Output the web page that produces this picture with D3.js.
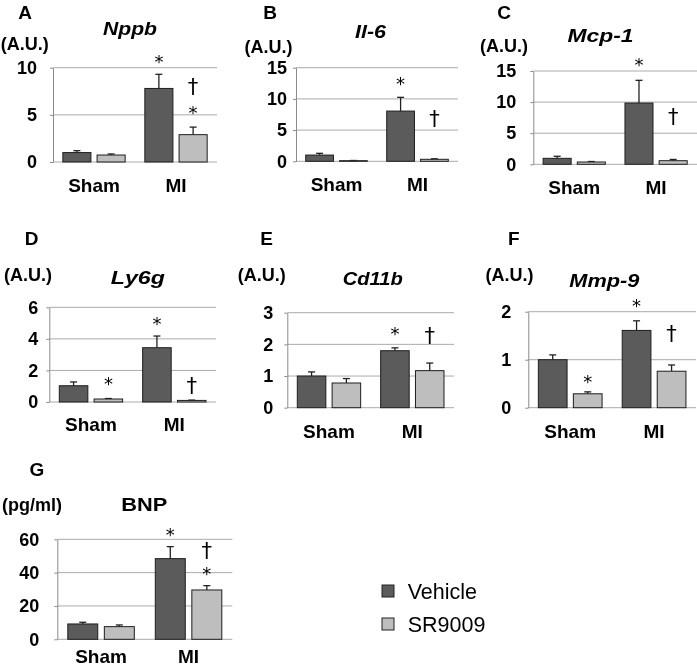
<!DOCTYPE html>
<html><head><meta charset="utf-8">
<script src="https://cdn.jsdelivr.net/npm/d3@7"></script>
<style>
body{margin:0;background:#fff}
svg{display:block;transform:translateZ(0)}
text{font-family:"Liberation Sans",Arial,sans-serif;fill:#000}
</style>
</head><body>
<svg id="chart" width="697" height="669"></svg>
<script>
// ---------- DATA ----------
const groups = ["Sham", "MI"];
const seriesNames = ["Vehicle", "SR9009"];

const nppbVehicle = [1.0, 7.8],  nppbVehicleErr = [0.2, 1.5];
const nppbSR = [0.74, 2.9],      nppbSRErr = [0.11, 0.8];
const nppbTicks = [0, 5, 10];
const nppbSig = [["MI", "Vehicle", "*"], ["MI", "SR9009", "*"], ["MI", "SR9009", "†"]];

const il6Vehicle = [1.0, 8.05],  il6VehicleErr = [0.28, 2.2];
const il6SR = [0.1, 0.32],       il6SRErr = [0.03, 0.08];
const il6Ticks = [0, 5, 10, 15];
const il6Sig = [["MI", "Vehicle", "*"], ["MI", "SR9009", "†"]];

const mcp1Vehicle = [0.96, 9.85], mcp1VehicleErr = [0.33, 3.65];
const mcp1SR = [0.37, 0.58],      mcp1SRErr = [0.08, 0.2];
const mcp1Ticks = [0, 5, 10, 15];
const mcp1Sig = [["MI", "Vehicle", "*"], ["MI", "SR9009", "†"]];

const ly6gVehicle = [1.03, 3.44], ly6gVehicleErr = [0.24, 0.74];
const ly6gSR = [0.19, 0.1],       ly6gSRErr = [0.03, 0.02];
const ly6gTicks = [0, 2, 4, 6];
const ly6gSig = [["Sham", "SR9009", "*"], ["MI", "Vehicle", "*"], ["MI", "SR9009", "†"]];

const cd11bVehicle = [1.0, 1.8],  cd11bVehicleErr = [0.13, 0.09];
const cd11bSR = [0.78, 1.17],     cd11bSRErr = [0.14, 0.24];
const cd11bTicks = [0, 1, 2, 3];
const cd11bSig = [["MI", "Vehicle", "*"], ["MI", "SR9009", "†"]];

const mmp9Vehicle = [1.0, 1.61],  mmp9VehicleErr = [0.1, 0.2];
const mmp9SR = [0.29, 0.76],      mmp9SRErr = [0.04, 0.13];
const mmp9Ticks = [0, 1, 2];
const mmp9Sig = [["Sham", "SR9009", "*"], ["MI", "Vehicle", "*"], ["MI", "SR9009", "†"]];

const bnpVehicle = [9.2, 48.4],   bnpVehicleErr = [1.0, 7.2];
const bnpSR = [7.6, 29.6],        bnpSRErr = [1.0, 2.6];
const bnpTicks = [0, 20, 40, 60];
const bnpSig = [["MI", "Vehicle", "*"], ["MI", "SR9009", "*"], ["MI", "SR9009", "†"]];

const panels = [
  {key: "A", title: "Nppb",  italic: true,  unit: "(A.U.)",  veh: nppbVehicle,  vehErr: nppbVehicleErr,  sr: nppbSR,  srErr: nppbSRErr,  ticks: nppbTicks,  sig: nppbSig},
  {key: "B", title: "Il-6",  italic: true,  unit: "(A.U.)",  veh: il6Vehicle,   vehErr: il6VehicleErr,   sr: il6SR,   srErr: il6SRErr,   ticks: il6Ticks,   sig: il6Sig},
  {key: "C", title: "Mcp-1", italic: true,  unit: "(A.U.)",  veh: mcp1Vehicle,  vehErr: mcp1VehicleErr,  sr: mcp1SR,  srErr: mcp1SRErr,  ticks: mcp1Ticks,  sig: mcp1Sig},
  {key: "D", title: "Ly6g",  italic: true,  unit: "(A.U.)",  veh: ly6gVehicle,  vehErr: ly6gVehicleErr,  sr: ly6gSR,  srErr: ly6gSRErr,  ticks: ly6gTicks,  sig: ly6gSig},
  {key: "E", title: "Cd11b", italic: true,  unit: "(A.U.)",  veh: cd11bVehicle, vehErr: cd11bVehicleErr, sr: cd11bSR, srErr: cd11bSRErr, ticks: cd11bTicks, sig: cd11bSig},
  {key: "F", title: "Mmp-9", italic: true,  unit: "(A.U.)",  veh: mmp9Vehicle,  vehErr: mmp9VehicleErr,  sr: mmp9SR,  srErr: mmp9SRErr,  ticks: mmp9Ticks,  sig: mmp9Sig},
  {key: "G", title: "BNP",   italic: false, unit: "(pg/ml)", veh: bnpVehicle,   vehErr: bnpVehicleErr,   sr: bnpSR,   srErr: bnpSRErr,   ticks: bnpTicks,   sig: bnpSig}
];

// ---------- LAYOUT ----------
const layout = {
  A: {left: 53,    right: 217, top: 67.7,  bottom: 162,   gap: 16, letter: [25, 19],     title: [130, 35, 54],     unit: [24.7, 49.5], cat: 191.7, sigOff: [16.6, 18, 39]},
  B: {left: 296,   right: 458, top: 67.7,  bottom: 161.3, gap: 9,  letter: [270, 19],    title: [370.5, 38, 31],   unit: [268.5, 53],  cat: 191,   sigOff: [17.3, 38.8]},
  C: {left: 533.3, right: 697, top: 71,    bottom: 164.3, gap: 17, letter: [504, 19],    title: [600.5, 41.7, 66], unit: [504, 52],    cat: 194,   sigOff: [19.3, 41.5]},
  D: {left: 49.3,  right: 216, top: 307.3, bottom: 402,   gap: 11, letter: [31.7, 245],  title: [137.8, 283.5, 54], unit: [28, 281],   cat: 431,   sigOff: [18.5, 16, 13.3]},
  E: {left: 287.3, right: 454, top: 312.7, bottom: 407.7, gap: 14, letter: [266.7, 245], title: [372.8, 284.5, 60], unit: [261.7, 281], cat: 437.7, sigOff: [17.7, 26]},
  F: {left: 528.3, right: 696, top: 311.7, bottom: 407.7, gap: 17, letter: [513.7, 245], title: [604.3, 287, 70], unit: [509.5, 281], cat: 437.7, sigOff: [13.7, 19, 30]},
  G: {left: 57.3,  right: 232.3, top: 539.3, bottom: 639.3, gap: 18, letter: [37, 476], title: [144.2, 510.5, 46], unit: [32, 511],    cat: 663.3, sigOff: [15.7, 15.7, 34]}
};

const color = d3.scaleOrdinal().domain(seriesNames).range(["#5b5b5b", "#bebebe"]);
const gridColor = "#ababab";
const axisColor = "#8a8a8a";

const svg = d3.select("#chart");

panels.forEach(p => {
  const L = layout[p.key];
  const g = svg.append("g");
  const y = d3.scaleLinear().domain([0, d3.max(p.ticks)]).range([L.bottom, L.top]);
  const x0 = d3.scaleBand().domain(groups).range([L.left, L.right]);
  const bw = x0.bandwidth();
  const x1 = d3.scaleBand().domain(seriesNames).range([bw * 0.12, bw * 0.88]).paddingInner(0.18);

  // gridlines
  g.append("g").selectAll("line").data(p.ticks).join("line")
    .attr("x1", L.left).attr("x2", L.right)
    .attr("y1", d => y(d)).attr("y2", d => y(d))
    .attr("stroke", gridColor).attr("stroke-width", 1);

  // y axis
  const ax = g.append("g").attr("transform", `translate(${L.left},0)`)
    .call(d3.axisLeft(y).tickValues(p.ticks).tickFormat(d3.format("d"))
      .tickSize(3).tickSizeOuter(0).tickPadding(L.gap - 3));
  ax.select(".domain").attr("stroke", axisColor);
  ax.selectAll(".tick line").attr("stroke", axisColor);
  ax.selectAll(".tick text").attr("fill", "#000").style("font-size", "18px").style("font-weight", "bold")
    .style("font-family", '"Liberation Sans",Arial,sans-serif');

  // bars
  const rows = [];
  groups.forEach((grp, i) => {
    rows.push({grp, s: "Vehicle", v: p.veh[i], e: p.vehErr[i]});
    rows.push({grp, s: "SR9009", v: p.sr[i], e: p.srErr[i]});
  });
  const cx = d => x0(d.grp) + x1(d.s) + x1.bandwidth() / 2;

  // error bars
  const eb = g.append("g").attr("stroke", "#222").attr("stroke-width", 1.3);
  eb.selectAll("line.v").data(rows).join("line").attr("class", "v")
    .attr("x1", cx).attr("x2", cx).attr("y1", d => y(d.v)).attr("y2", d => y(d.v + d.e));
  eb.selectAll("line.c").data(rows).join("line").attr("class", "c")
    .attr("x1", d => cx(d) - 3.5).attr("x2", d => cx(d) + 3.5)
    .attr("y1", d => y(d.v + d.e)).attr("y2", d => y(d.v + d.e));

  g.append("g").selectAll("rect").data(rows).join("rect")
    .attr("x", d => x0(d.grp) + x1(d.s)).attr("width", x1.bandwidth())
    .attr("y", d => y(d.v)).attr("height", d => L.bottom - y(d.v))
    .attr("fill", d => color(d.s)).attr("stroke", "#1e1e1e").attr("stroke-width", 1);

  // category labels
  g.append("g").selectAll("text").data(groups).join("text")
    .attr("x", d => x0(d) + bw / 2).attr("y", L.cat)
    .attr("text-anchor", "middle").style("font-size", "19px").style("font-weight", "bold")
    .text(d => d);

  // significance marks
  p.sig.forEach((s, i) => {
    const row = rows.find(r => r.grp === s[0] && r.s === s[1]);
    const center = y(row.v + row.e) - L.sigOff[i];
    const isStar = s[2] === "*";
    const fs = isStar ? 18 : 21;
    g.append("text").attr("x", cx(row))
      .attr("y", center + (isStar ? 0.57 : 0.3) * fs)
      .attr("text-anchor", "middle").attr("fill", "#000")
      .style("font-size", fs + "px").style("font-family", '"DejaVu Sans","Liberation Sans",sans-serif')
      .text(s[2]);
  });

  // panel letter
  g.append("text").attr("x", L.letter[0]).attr("y", L.letter[1])
    .attr("text-anchor", "middle").style("font-size", "19px").style("font-weight", "bold").text(p.key);
  // title
  g.append("text").attr("x", L.title[0] - L.title[2] / 2).attr("y", L.title[1])
    .attr("textLength", L.title[2]).attr("lengthAdjust", "spacingAndGlyphs")
    .style("font-size", "19px").style("font-weight", "bold")
    .style("font-style", p.italic ? "italic" : "normal").text(p.title);
  // unit
  g.append("text").attr("x", L.unit[0]).attr("y", L.unit[1])
    .attr("text-anchor", "middle").style("font-size", "18px").style("font-weight", "bold").text(p.unit);
});

// legend
const leg = svg.append("g");
seriesNames.forEach((s, i) => {
  const yy = 585 + i * 33;
  leg.append("rect").attr("x", 382).attr("y", yy).attr("width", 12).attr("height", 12)
    .attr("fill", color(s)).attr("stroke", "#222").attr("stroke-width", 1);
  leg.append("text").attr("x", 407.7).attr("y", yy + 14.3)
    .style("font-size", "21.5px").text(s);
});
</script>
</body></html>
